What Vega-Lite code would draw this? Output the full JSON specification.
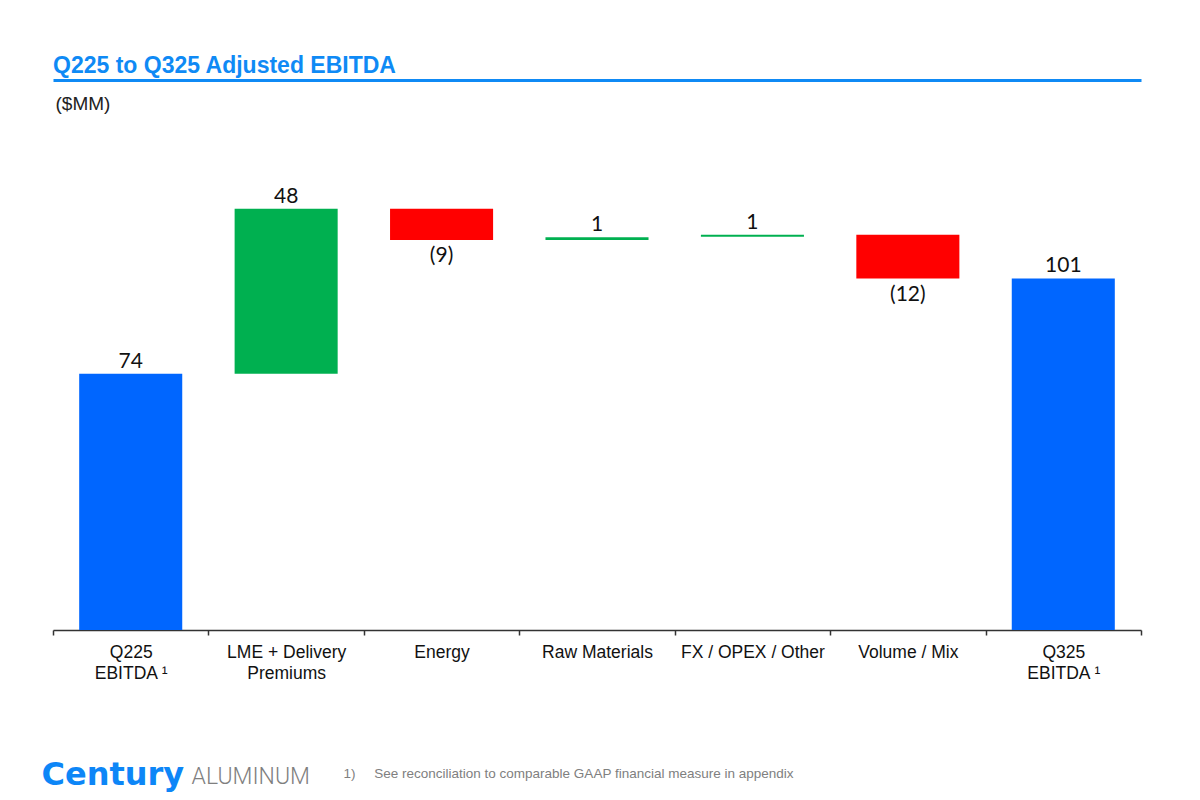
{
  "$schema": "https://vega.github.io/schema/vega-lite/v6.json",
  "width": 1088,
  "height": 485,
  "autosize": {"type": "none"},
  "padding": {"left": 53, "top": 145, "right": 59, "bottom": 170},
  "background": "white",
  "config": {"view": {"stroke": null}, "font": "Liberation Sans"},
  "title": {"text": "Q225 to Q325 Adjusted EBITDA", "anchor": "start", "frame": "group", "font": "Liberation Sans", "fontSize": 23, "fontWeight": "bold", "color": "#0f8af5", "offset": 2},
  "data": {"values": [
    {"cat": "Q225|EBITDA ¹", "start": 0, "end": 74, "label": "74", "kind": "total"},
    {"cat": "LME + Delivery|Premiums", "start": 74, "end": 121.6, "label": "48", "kind": "inc"},
    {"cat": "Energy", "start": 121.6, "end": 112.6, "label": "(9)", "kind": "dec"},
    {"cat": "Raw Materials", "start": 112.6, "end": 113.4, "label": "1", "kind": "inc"},
    {"cat": "FX / OPEX / Other", "start": 113.5, "end": 114.1, "label": "1", "kind": "inc"},
    {"cat": "Volume / Mix", "start": 114.1, "end": 101.5, "label": "(12)", "kind": "dec"},
    {"cat": "Q325|EBITDA ¹", "start": 0, "end": 101.5, "label": "101", "kind": "total"}
  ]},
  "resolve": {"axis": {"x": "independent", "y": "independent"}},
  "layer": [
    {
      "mark": {"type": "bar", "width": {"band": 0.663}},
      "encoding": {
        "x": {"field": "cat", "type": "nominal", "sort": null,
          "scale": {"domain": ["Q225|EBITDA ¹", "LME + Delivery|Premiums", "Energy", "Raw Materials", "FX / OPEX / Other", "Volume / Mix", "Q325|EBITDA ¹"], "paddingInner": 0, "paddingOuter": 0},
          "axis": {"orient": "bottom", "title": "1)\u00a0\u00a0\u00a0\u00a0\u00a0See reconciliation to comparable GAAP financial measure in appendix",
            "labelExpr": "split(datum.label, '|')", "labelAngle": 0, "labelFont": "Liberation Sans", "labelFontSize": 17.5, "labelColor": "#111", "labelLineHeight": 21, "labelPadding": 8, "labelLimit": 0, "labelOverlap": false,
            "tickBand": "extent", "tickSize": 5, "tickColor": "#333", "tickWidth": 1.5, "domainColor": "#333", "domainWidth": 1.5, "grid": false,
            "titleFont": "Liberation Sans", "titleFontSize": 13.5, "titleFontWeight": "normal", "titleColor": "#808080", "titleX": 290, "titleY": 147, "titleAlign": "left", "titleBaseline": "alphabetic", "titleAngle": 0}},
        "y": {"field": "start", "type": "quantitative", "scale": {"domain": [0, 140]},
          "axis": {"orient": "left", "title": "($MM)", "domain": false, "ticks": false, "labels": false, "grid": false,
            "titleAngle": 0, "titleAlign": "left", "titleBaseline": "alphabetic", "titleX": 2, "titleY": -36, "titleFont": "Liberation Sans", "titleFontSize": 19, "titleFontWeight": "normal", "titleColor": "#222"}},
        "y2": {"field": "end"},
        "color": {"field": "kind", "type": "nominal", "scale": {"domain": ["total", "inc", "dec"], "range": ["#0066FF", "#00B050", "#FF0000"]}, "legend": null}
      }
    },
    {
      "transform": [{"filter": "datum.kind != 'dec'"}],
      "mark": {"type": "text", "baseline": "alphabetic", "dy": -6, "font": "Lato", "fontSize": 21, "color": "#111"},
      "encoding": {
        "x": {"field": "cat", "type": "nominal", "sort": null, "axis": null},
        "y": {"field": "end", "type": "quantitative", "axis": null},
        "text": {"field": "label"}
      }
    },
    {
      "transform": [{"filter": "datum.kind == 'dec'"}],
      "mark": {"type": "text", "baseline": "alphabetic", "dy": 22.5, "font": "Lato", "fontSize": 21, "color": "#111"},
      "encoding": {
        "x": {"field": "cat", "type": "nominal", "sort": null, "axis": null},
        "y": {"field": "end", "type": "quantitative", "axis": null},
        "text": {"field": "label"}
      }
    },
    {
      "mark": {"type": "bar", "opacity": 0, "width": {"band": 0.663}},
      "encoding": {
        "x": {"field": "cat", "type": "nominal", "sort": null,
          "axis": {"orient": "top", "offset": 65, "domain": true, "domainColor": "#0f8af5", "domainWidth": 3, "ticks": false, "labels": false, "grid": false,
            "title": "ALUMINUM", "titleX": 138, "titleY": 703, "titleAlign": "left", "titleAngle": 0, "titleBaseline": "alphabetic", "titleFont": "Roboto", "titleFontSize": 23, "titleFontWeight": 300, "titleColor": "#7f7f7f"}},
        "y": {"field": "start", "type": "quantitative",
          "axis": {"orient": "right", "domain": false, "ticks": false, "labels": false, "grid": false,
            "title": "Century", "titleX": -1100, "titleY": 639, "titleAlign": "left", "titleAngle": 0, "titleBaseline": "alphabetic", "titleFont": "DejaVu Sans", "titleFontSize": 32, "titleFontWeight": "bold", "titleColor": "#0d86f7"}},
        "y2": {"field": "end"}
      }
    }
  ]
}
